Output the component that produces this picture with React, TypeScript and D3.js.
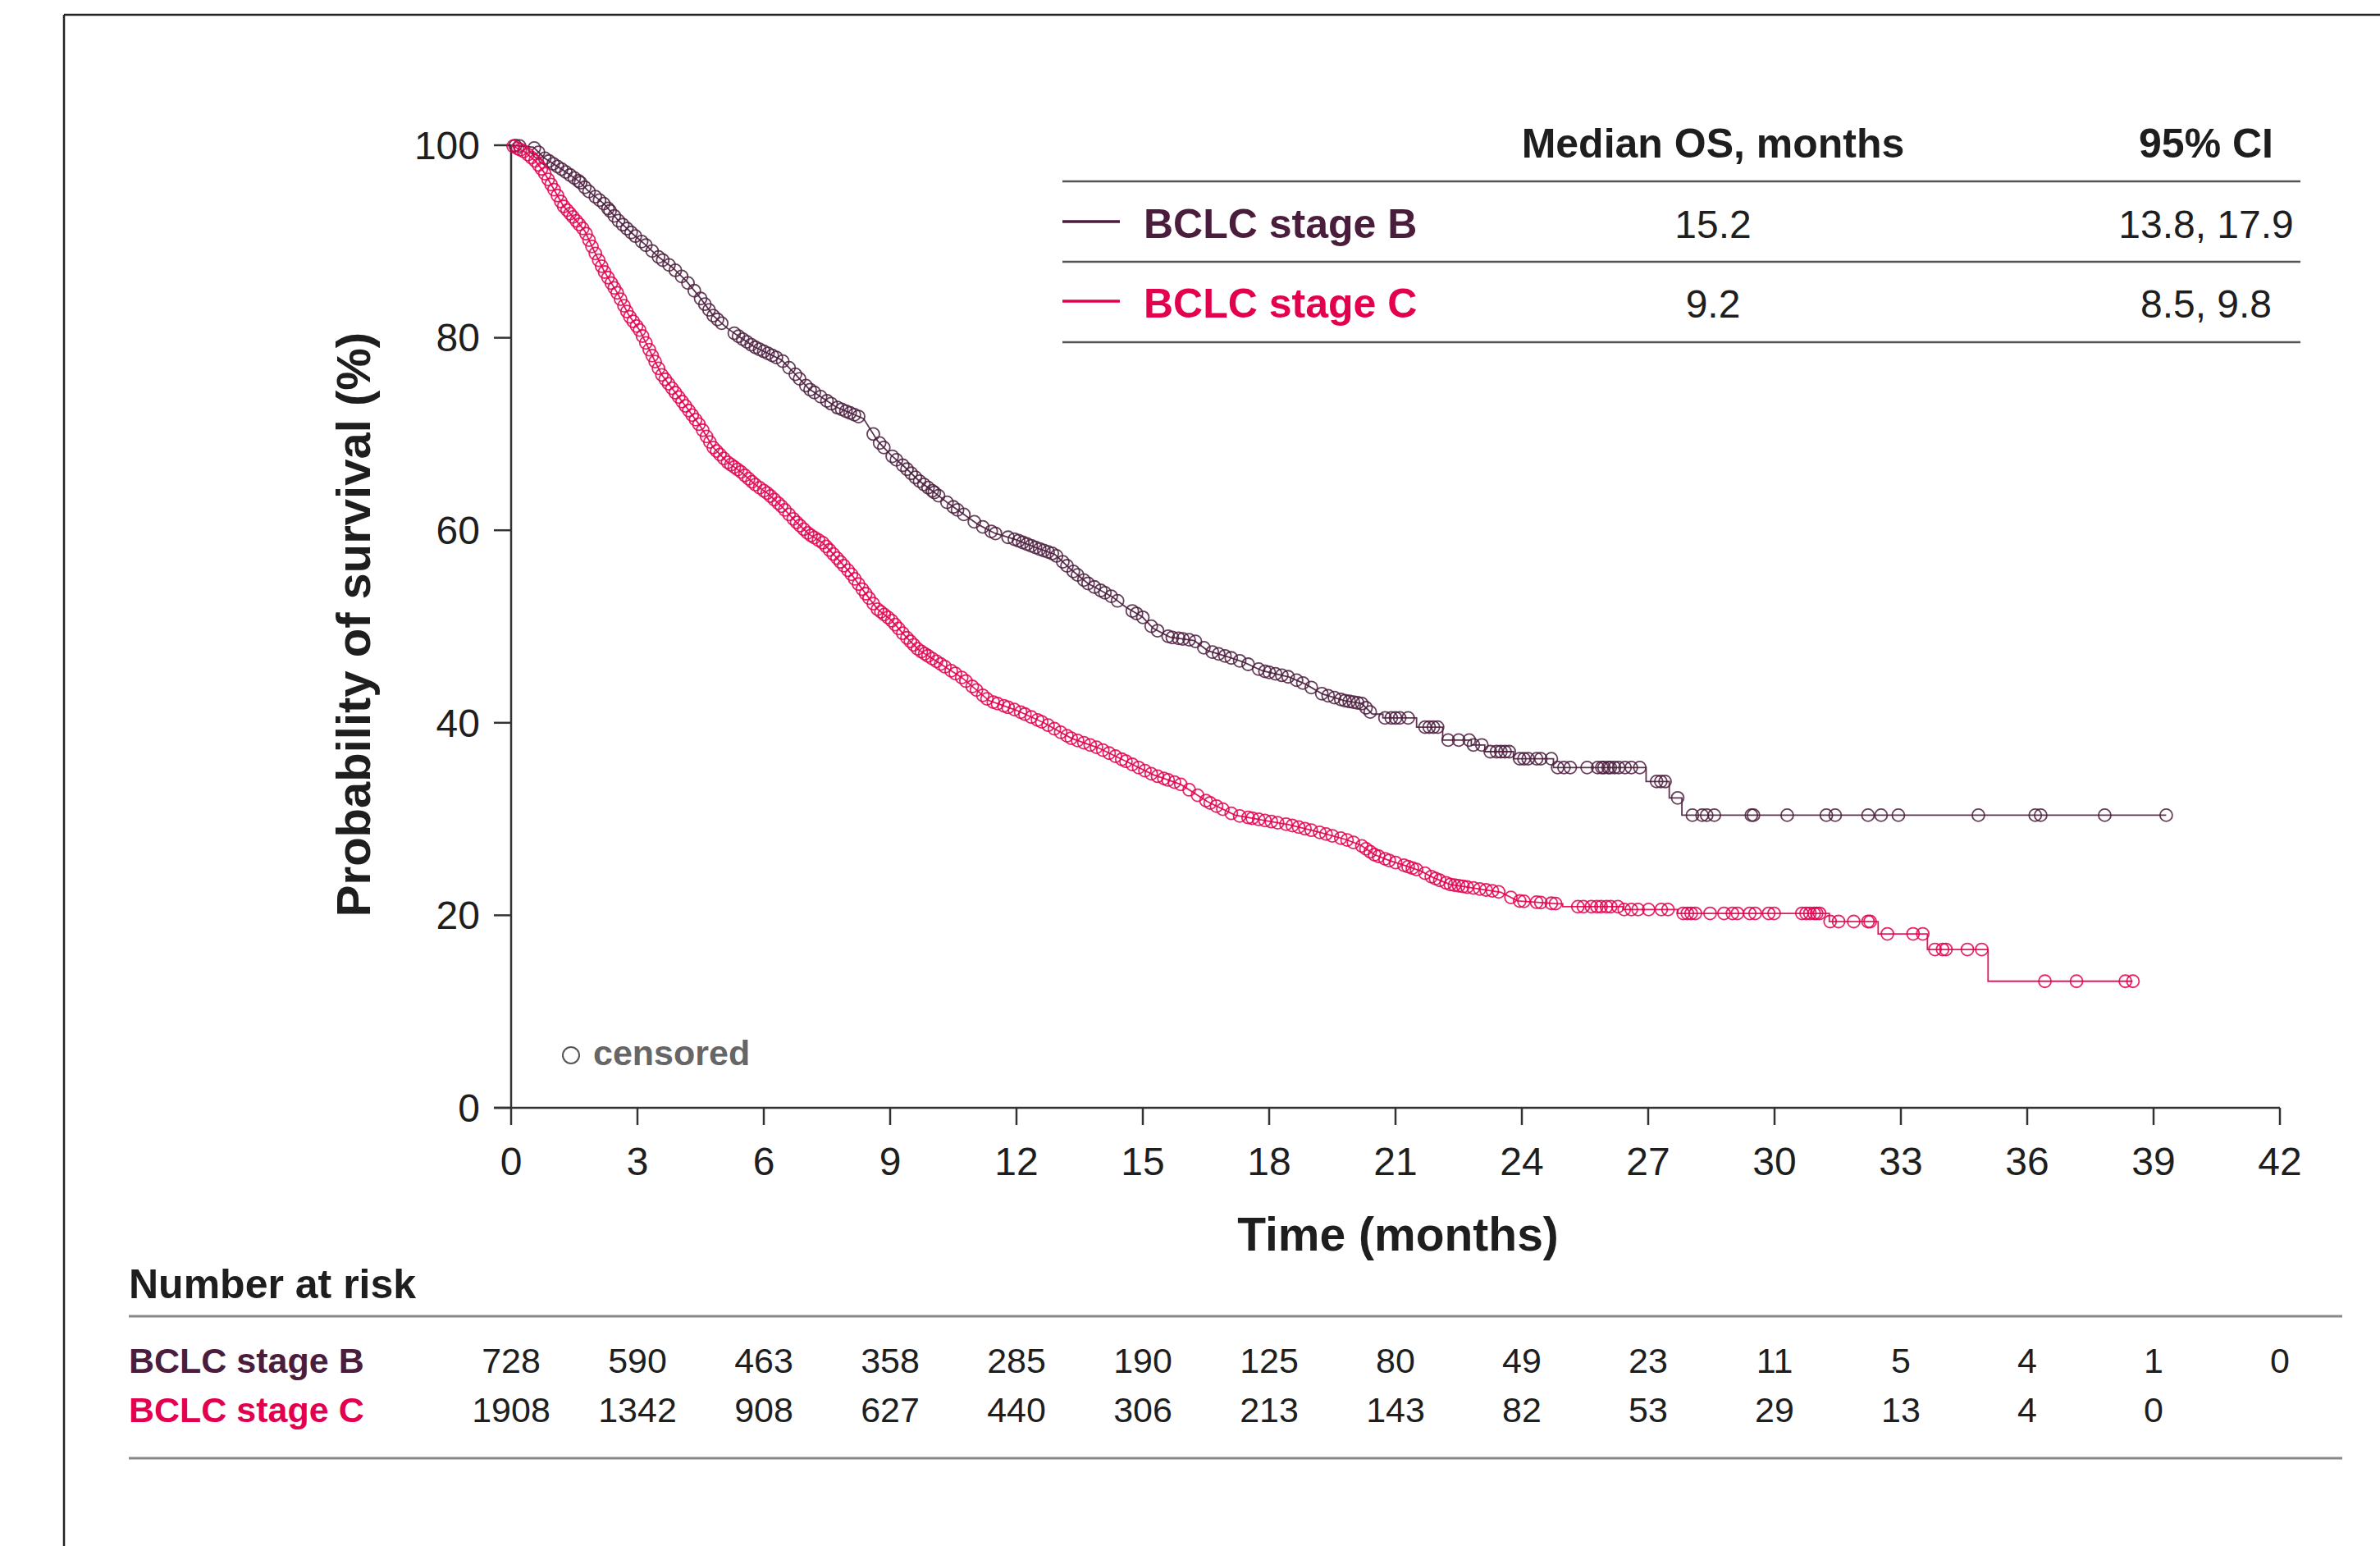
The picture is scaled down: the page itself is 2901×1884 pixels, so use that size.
import * as d3 from 'd3'

// Kaplan-Meier OS, BCLC stage B vs C
type Pt = [number, number]

const xTicks = [0, 3, 6, 9, 12, 15, 18, 21, 24, 27, 30, 33, 36, 39, 42]
const yTicks = [0, 20, 40, 60, 80, 100]

const groups = ['BCLC stage B', 'BCLC stage C']
const medians = ['15.2', '9.2']
const cis = ['13.8, 17.9', '8.5, 9.8']

const riskB = [728, 590, 463, 358, 285, 190, 125, 80, 49, 23, 11, 5, 4, 1, 0]
const riskC = [1908, 1342, 908, 627, 440, 306, 213, 143, 82, 53, 29, 13, 4, 0]

// dense early part (many tiny steps -> drawn as a polyline)
const bSmooth: Pt[] = [
  [0, 100], [0.53, 99.8], [0.78, 98.7], [1.24, 97.4], [1.63, 96.2], [1.82, 95.3], [2.21, 93.9],
  [2.54, 92.2], [2.86, 90.9], [3.18, 89.7], [3.5, 88.4], [3.83, 87.3], [4.16, 85.9], [4.48, 84.2],
  [4.8, 82.3], [5.13, 81.0], [5.45, 80.0], [5.78, 79.05], [6.42, 77.7], [6.75, 76.2], [7.07, 74.7],
  [7.72, 72.8], [8.37, 71.6], [8.7, 69.3], [9.02, 67.8], [9.34, 66.6], [9.67, 65.2], [10.06, 63.9],
  [10.38, 62.8], [10.7, 61.8], [11.09, 60.6], [11.48, 59.7], [12.0, 59.0], [12.52, 58.1], [12.91, 57.5],
  [13.3, 55.9], [13.69, 54.5], [14.27, 53.1], [14.6, 52.0], [14.99, 51.0], [15.25, 49.8], [15.64, 48.9],
  [16.22, 48.55], [16.54, 47.5], [17.06, 46.8], [17.39, 46.3], [17.84, 45.4], [18.48, 44.75],
  [18.87, 44.0], [19.26, 43.0], [19.79, 42.3], [20.2, 42.0], [20.45, 40.9],
]
// sparse tail, real steps
const bSteps: Pt[] = [
  [20.45, 40.9], [20.7, 40.5], [21.5, 39.55], [22.12, 38.2], [22.8, 37.7], [23.12, 37.0], [23.8, 36.26],
  [24.75, 35.35], [26.95, 33.9], [27.5, 32.2], [27.8, 30.4], [39.3, 30.4],
]

const cSmooth: Pt[] = [
  [0, 100], [0.33, 99.3], [0.59, 98.3], [0.78, 97.2], [0.98, 95.7], [1.24, 93.7], [1.5, 92.4],
  [1.75, 91.1], [1.95, 89.2], [2.21, 86.9], [2.53, 84.6], [2.8, 82.3], [3.05, 80.8], [3.31, 78.5],
  [3.57, 76.2], [3.83, 74.7], [4.16, 72.8], [4.48, 70.9], [4.8, 68.6], [5.13, 67.1], [5.45, 66.1],
  [5.78, 64.8], [6.1, 63.8], [6.42, 62.5], [6.75, 60.95], [7.07, 59.6], [7.4, 58.7], [7.72, 57.2],
  [8.05, 55.6], [8.37, 53.7], [8.7, 51.8], [9.02, 50.7], [9.34, 49.1], [9.67, 47.6], [10.06, 46.5],
  [10.7, 44.7], [11.35, 42.3], [12.0, 41.3], [12.65, 40.0], [13.3, 38.4], [13.94, 37.4], [14.6, 36.0],
  [15.25, 34.6], [15.9, 33.6], [16.54, 31.8], [17.19, 30.4], [17.84, 29.9], [18.48, 29.4], [19.13, 28.7],
  [19.8, 27.9], [20.17, 27.3], [20.5, 26.3], [20.85, 25.7], [21.2, 25.2], [21.6, 24.6], [21.9, 23.9],
  [22.3, 23.2], [22.9, 22.8], [23.5, 22.4], [23.9, 21.5], [24.85, 21.2],
]
const cSteps: Pt[] = [
  [24.85, 21.2], [24.97, 20.9], [26.4, 20.6], [27.7, 20.2], [31.3, 19.35], [32.46, 18.07],
  [33.63, 16.45], [35.07, 13.15], [38.5, 13.15],
]

// censoring times (months)
const bCensor = [
  0.1, 0.2, 0.55, 0.65, 0.8, 0.9, 1.0, 1.1, 1.2, 1.3, 1.4, 1.5, 1.6, 1.65, 1.75, 1.85, 2.0, 2.1, 2.2, 2.3,
  2.35, 2.45, 2.55, 2.65, 2.75, 2.85, 2.95, 3.1, 3.2, 3.35, 3.5, 3.6, 3.75, 3.9, 4.05, 4.2, 4.35, 4.5, 4.6,
  4.7, 4.8, 4.9, 5.0, 5.3, 5.4, 5.5, 5.6, 5.7, 5.8, 5.9, 6.0, 6.1, 6.2, 6.3, 6.45, 6.6, 6.75, 6.85, 7.0,
  7.1, 7.2, 7.35, 7.5, 7.6, 7.75, 7.85, 7.95, 8.05, 8.15, 8.25, 8.6, 8.75, 8.85, 9.05, 9.15, 9.3, 9.4,
  9.5, 9.6, 9.7, 9.8, 9.9, 10.0, 10.05, 10.15, 10.35, 10.5, 10.6, 10.75, 11.0, 11.2, 11.4, 11.5, 11.8,
  11.95, 12.05, 12.15, 12.25, 12.35, 12.45, 12.55, 12.65, 12.75, 12.85, 12.95, 13.1, 13.2, 13.35, 13.45,
  13.6, 13.7, 13.85, 14.0, 14.1, 14.25, 14.4, 14.75, 14.85, 15.0, 15.2, 15.35, 15.6, 15.7, 15.85, 15.95,
  16.1, 16.25, 16.45, 16.65, 16.8, 16.95, 17.1, 17.3, 17.5, 17.75, 17.9, 18.0, 18.15, 18.3, 18.45, 18.65,
  18.8, 19.0, 19.25, 19.4, 19.55, 19.7, 19.8, 19.9, 20.0, 20.1, 20.2, 20.3, 20.4, 20.75, 20.9, 21.0, 21.1,
  21.3, 21.7, 21.8, 21.9, 22.0, 22.25, 22.5, 22.75, 22.85, 23.05, 23.25, 23.4, 23.5, 23.6, 23.7, 23.95,
  24.05, 24.15, 24.35, 24.45, 24.7, 24.85, 25.0, 25.15, 25.55, 25.8, 25.9, 25.95, 26.05, 26.1, 26.2, 26.3,
  26.45, 26.6, 26.8, 27.2, 27.3, 27.4, 27.7, 28.05, 28.28, 28.39, 28.57, 29.45, 29.5, 30.3, 31.23, 31.44,
  32.22, 32.53, 32.94, 34.84, 36.19, 36.32, 37.84, 39.3,
]
const cCensor = [
  0.05, 0.15, 0.22, 0.3, 0.4, 0.48, 0.57, 0.65, 0.72, 0.8, 0.88, 0.95, 1.02, 1.1, 1.18, 1.25, 1.33, 1.4,
  1.47, 1.55, 1.62, 1.7, 1.78, 1.85, 1.92, 2.0, 2.08, 2.15, 2.22, 2.3, 2.38, 2.45, 2.52, 2.6, 2.68, 2.75,
  2.82, 2.9, 2.98, 3.05, 3.12, 3.2, 3.28, 3.35, 3.42, 3.5, 3.58, 3.66, 3.74, 3.82, 3.9, 3.98, 4.06, 4.14,
  4.22, 4.3, 4.38, 4.46, 4.55, 4.64, 4.72, 4.8, 4.88, 4.96, 5.05, 5.14, 5.22, 5.3, 5.38, 5.46, 5.55, 5.64,
  5.72, 5.8, 5.9, 6.0, 6.08, 6.16, 6.25, 6.34, 6.42, 6.5, 6.6, 6.7, 6.78, 6.86, 6.95, 7.04, 7.12, 7.2,
  7.3, 7.4, 7.48, 7.56, 7.65, 7.74, 7.82, 7.9, 8.0, 8.08, 8.16, 8.25, 8.34, 8.42, 8.5, 8.6, 8.7, 8.78,
  8.86, 8.95, 9.04, 9.12, 9.2, 9.3, 9.4, 9.48, 9.56, 9.65, 9.74, 9.82, 9.9, 10.0, 10.1, 10.2, 10.3, 10.45,
  10.55, 10.7, 10.8, 10.95, 11.05, 11.2, 11.3, 11.45, 11.55, 11.7, 11.8, 11.95, 12.1, 12.2, 12.35, 12.5,
  12.6, 12.75, 12.9, 13.05, 13.2, 13.3, 13.45, 13.6, 13.75, 13.9, 14.05, 14.2, 14.35, 14.5, 14.6, 14.75,
  14.9, 15.05, 15.2, 15.35, 15.5, 15.6, 15.75, 15.9, 16.1, 16.3, 16.5, 16.6, 16.75, 16.9, 17.1, 17.3,
  17.5, 17.6, 17.75, 17.9, 18.05, 18.2, 18.4, 18.55, 18.7, 18.85, 19.0, 19.2, 19.35, 19.5, 19.7, 19.85,
  20.0, 20.2, 20.3, 20.4, 20.5, 20.6, 20.75, 20.85, 21.0, 21.2, 21.3, 21.4, 21.5, 21.7, 21.85, 21.95,
  22.05, 22.2, 22.3, 22.4, 22.5, 22.6, 22.7, 22.85, 23.0, 23.15, 23.3, 23.45, 23.74, 23.95, 24.05, 24.35,
  24.45, 24.7, 24.8, 25.33, 25.46, 25.65, 25.78, 25.88, 26.01, 26.11, 26.28, 26.43, 26.6, 26.76, 27.01,
  27.31, 27.47, 27.83, 27.93, 28.02, 28.12, 28.47, 28.8, 29.0, 29.12, 29.41, 29.54, 29.86, 29.99, 30.65,
  30.75, 30.84, 30.94, 31.0, 31.07, 31.32, 31.52, 31.88, 32.22, 32.27, 32.68, 33.29, 33.52, 33.81, 33.99,
  34.07, 34.58, 34.92, 36.42, 37.17, 38.33, 38.51,
]

const W = 2901, H = 1884
const FONT = '"Liberation Sans", Arial, Helvetica, sans-serif'
const COL_B = '#4b1d3d'
const COL_C = '#e2004f'
const INK = '#1e1e1e'
const AXIS = '#333'

const x = d3.scaleLinear().domain([0, 42]).range([623, 2779])
const y = d3.scaleLinear().domain([0, 100]).range([1350, 177])

const lineSmooth = d3.line<Pt>().x((d) => x(d[0])).y((d) => y(d[1]))
const lineStep = d3.line<Pt>().x((d) => x(d[0])).y((d) => y(d[1])).curve(d3.curveStepAfter)

// value of the curve at time t (polyline part, then step part)
function survivalAt(smooth: Pt[], steps: Pt[], t: number) {
  const last = smooth[smooth.length - 1]
  if (t <= last[0]) {
    for (let i = 0; i < smooth.length - 1; i++) {
      const a = smooth[i], b = smooth[i + 1]
      if (t >= a[0] && t <= b[0]) return a[1] + ((t - a[0]) / (b[0] - a[0])) * (b[1] - a[1])
    }
    return last[1]
  }
  let v = steps[0][1]
  for (const s of steps) if (s[0] <= t) v = s[1]
  return v
}

const series = [
  { name: groups[0], color: COL_B, smooth: bSmooth, steps: bSteps, censor: bCensor },
  { name: groups[1], color: COL_C, smooth: cSmooth, steps: cSteps, censor: cCensor },
]

export default function App() {
  const tableX0 = 1295, tableX1 = 2804
  const rowBase = [290, 387]
  const rowLine = [221, 319, 417]
  const riskBase = [1673, 1733]

  return (
    <svg width={W} height={H} viewBox={`0 0 ${W} ${H}`}
      style={{ position: 'absolute', left: 0, top: 0, background: '#fff' }}
      fontFamily={FONT}>
      <rect x={0} y={0} width={W} height={H} fill="#fff" />
      {/* frame */}
      <line x1={78} x2={W} y1={18} y2={18} stroke="#222" strokeWidth={2.5} />
      <line x1={78} x2={78} y1={18} y2={H} stroke="#222" strokeWidth={2.5} />

      {/* axes */}
      <line x1={x(0)} x2={x(0)} y1={y(100)} y2={y(0)} stroke={AXIS} strokeWidth={2.5} />
      <line x1={x(0) - 21} x2={x(42)} y1={y(0)} y2={y(0)} stroke={AXIS} strokeWidth={2.5} />
      {yTicks.map((v) => (
        <g key={'y' + v}>
          <line x1={x(0) - 21} x2={x(0)} y1={y(v)} y2={y(v)} stroke={AXIS} strokeWidth={2.5} />
          <text x={585} y={y(v)} dy="0.35em" textAnchor="end" fontSize={48} fill={INK}>{v}</text>
        </g>
      ))}
      {xTicks.map((v) => (
        <g key={'x' + v}>
          <line x1={x(v)} x2={x(v)} y1={y(0)} y2={y(0) + 21} stroke={AXIS} strokeWidth={2.5} />
          <text x={x(v)} y={1432} textAnchor="middle" fontSize={48} fill={INK}>{v}</text>
        </g>
      ))}
      <text transform="translate(451,761) rotate(-90)" textAnchor="middle" fontSize={58}
        fontWeight="bold" fill={INK}>Probability of survival (%)</text>
      <text x={(x(0) + x(42)) / 2 + 3} y={1524} textAnchor="middle" fontSize={57}
        fontWeight="bold" fill={INK}>Time (months)</text>

      {/* curves */}
      {series.map((s) => (
        <g key={s.name}>
          <path d={(lineSmooth(s.smooth) || '') + (lineStep(s.steps) || '')} fill="none"
            stroke={s.color} strokeWidth={1.8} strokeOpacity={0.9} />
          {s.censor.map((t, i) => (
            <circle key={i} cx={x(t)} cy={y(survivalAt(s.smooth, s.steps, t))} r={7.5}
              fill="none" stroke={s.color} strokeWidth={1.8} strokeOpacity={0.85} />
          ))}
        </g>
      ))}

      {/* censored legend */}
      <circle cx={696} cy={1286} r={10} fill="none" stroke="#555" strokeWidth={2} />
      <text x={723} y={1298} fontSize={43} fontWeight="bold" fill="#666">censored</text>

      {/* median table */}
      <text x={2088} y={192} textAnchor="middle" fontSize={50} fontWeight="bold" fill={INK}>Median OS, months</text>
      <text x={2689} y={192} textAnchor="middle" fontSize={50} fontWeight="bold" fill={INK}>95% CI</text>
      {rowLine.map((ly) => (
        <line key={ly} x1={tableX0} x2={tableX1} y1={ly} y2={ly} stroke="#555" strokeWidth={2.5} />
      ))}
      {series.map((s, i) => (
        <g key={'row' + i}>
          <line x1={tableX0} x2={1365} y1={rowBase[i] - 20} y2={rowBase[i] - 20} stroke={s.color} strokeWidth={3.5} />
          <text x={1394} y={rowBase[i]} fontSize={50} fontWeight="bold" fill={s.color}>{s.name}</text>
          <text x={2088} y={rowBase[i]} textAnchor="middle" fontSize={48} fill={INK}>{medians[i]}</text>
          <text x={2689} y={rowBase[i]} textAnchor="middle" fontSize={48} fill={INK}>{cis[i]}</text>
        </g>
      ))}

      {/* number at risk */}
      <text x={157} y={1582} fontSize={50} fontWeight="bold" fill={INK}>Number at risk</text>
      <line x1={157} x2={2855} y1={1604} y2={1604} stroke="#888" strokeWidth={3} />
      <line x1={157} x2={2855} y1={1777} y2={1777} stroke="#888" strokeWidth={3} />
      {[riskB, riskC].map((row, i) => (
        <g key={'risk' + i}>
          <text x={157} y={riskBase[i]} fontSize={43} fontWeight="bold" fill={series[i].color}>{groups[i]}</text>
          {row.map((n, j) => (
            <text key={j} x={x(xTicks[j])} y={riskBase[i]} textAnchor="middle" fontSize={43} fill={INK}>{n}</text>
          ))}
        </g>
      ))}
    </svg>
  )
}
